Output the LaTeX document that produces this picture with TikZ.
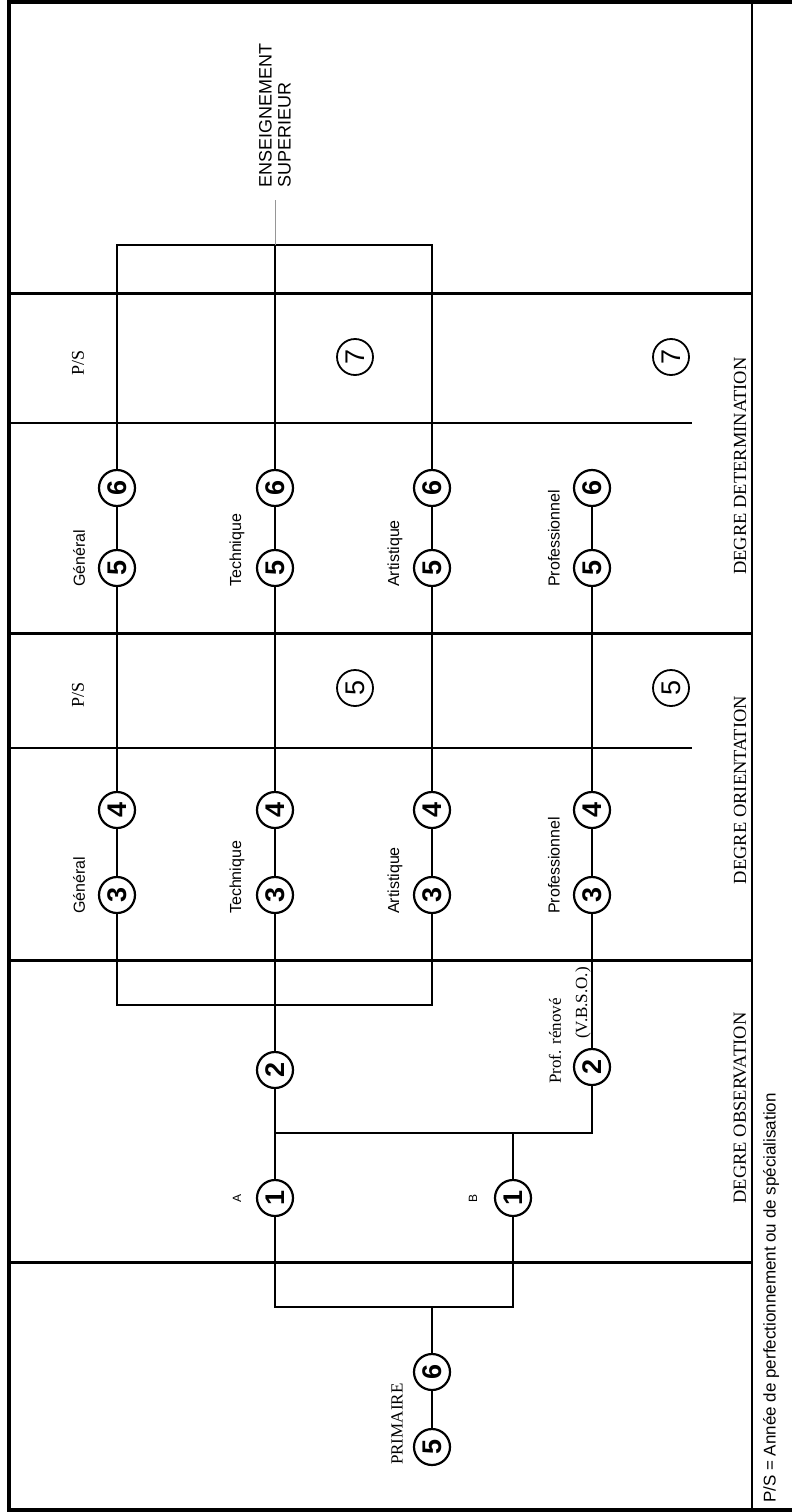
\documentclass[tikz,border=0pt]{standalone}
\usepackage{fontspec}
\setmainfont{Liberation Serif}
\setsansfont{Liberation Sans}
\usepackage{tikz}
\usetikzlibrary{positioning,calc}
\definecolor{supgrey}{RGB}{150,150,150}
\newcommand{\fsz}[1]{\fontsize{#1}{#1}\selectfont}

\begin{document}
\begin{tikzpicture}[
  x=1pt, y=-1pt,
  yr/.style={circle, draw, line width=2.2pt, minimum size=36pt, inner sep=0pt,
    font=\sffamily\bfseries\fsz{27}, rotate=90},
  ps/.style={yr, line width=1.8pt, font=\sffamily\fsz{27}},
  lab/.style={rotate=90, anchor=west, inner sep=0pt, font=\sffamily\fsz{16}},
  rom/.style={rotate=90, inner sep=0pt, font=\fsz{17}},
  deg/.style={rotate=90, inner sep=0pt, font=\fsz{18.5}},
  trk/.style={line width=1.6pt},
  sec/.style={line width=3pt},
  frm/.style={line width=3.5pt}
]
\useasboundingbox (0,0) rectangle (792,1512);
% ---- frame ------------------------------------------------------------------
\draw[frm] (792,2) -- (9,2) -- (9,1510) -- (792,1510);
\draw[line width=2pt] (752,2) -- (752,1510);
\foreach \yy in {293,633,960,1262} \draw[sec] (9,\yy) -- (752,\yy);
\foreach \yy in {423,748} \draw[trk] (9,\yy) -- (692,\yy);

% ---- nodes ------------------------------------------------------------------
% degre determination
\node[yr] (gen6) at (117,488) {6};  \node[yr] (gen5) at (117,568) {5};
\node[yr] (tec6) at (275,488) {6};  \node[yr] (tec5) at (275,568) {5};
\node[yr] (art6) at (432,488) {6};  \node[yr] (art5) at (432,568) {5};
\node[yr] (pro6) at (592,488) {6};  \node[yr] (pro5) at (592,568) {5};
\node[ps] (psd1) at (355,357) {7};  \node[ps] (psd2) at (671,357) {7};
% degre orientation
\node[yr] (gen4) at (117,810) {4};  \node[yr] (gen3) at (117,895) {3};
\node[yr] (tec4) at (275,810) {4};  \node[yr] (tec3) at (275,895) {3};
\node[yr] (art4) at (432,810) {4};  \node[yr] (art3) at (432,895) {3};
\node[yr] (pro4) at (592,810) {4};  \node[yr] (pro3) at (592,895) {3};
\node[ps] (pso1) at (355,688) {5};  \node[ps] (pso2) at (671,688) {5};
% degre observation
\node[yr] (obs2) at (275,1070) {2};
\node[yr] (vbso) at (592,1067) {2};
\node[yr] (obsA) at (275,1198) {1};
\node[yr] (obsB) at (513,1198) {1};
% primaire
\node[yr] (prim6) at (432,1372) {6};
\node[yr] (prim5) at (432,1447) {5};

% ---- labels -----------------------------------------------------------------
\foreach \xx/\tt in {79/Général, 237/Technique, 395/Artistique, 554/Professionnel}{
  \node[lab] at (\xx,587) {\tt};
  \node[lab] at (\xx,914) {\tt};
}
\node[rom, font=\fsz{18}] (psd) at (78,363) {P/S};
\node[rom, font=\fsz{18}] (pso) at (78,695) {P/S};
\node[lab, anchor=center, font=\sffamily\fsz{12}] (labA) at (237,1198) {A};
\node[lab, anchor=center, font=\sffamily\fsz{12}] (labB) at (473,1198) {B};
\node[rom, anchor=west] (renove) at (555,1084) {Prof. rénové};
\node[rom, anchor=east] (vbsolab) at (583,967) {(V.B.S.O.)};
\node[rom, anchor=west] (primlab) at (397,1465) {PRIMAIRE};
\node[deg] (degD) at (740,466) {DEGRE DETERMINATION};
\node[deg] (degO) at (740,790) {DEGRE ORIENTATION};
\node[deg] (degB) at (740,1108) {DEGRE OBSERVATION};
\node[rotate=90, anchor=west, inner xsep=12pt, inner ysep=0pt, align=left,
  font=\sffamily\fontsize{18}{19}\selectfont] (sup) at (275,200)
  {ENSEIGNEMENT\\SUPERIEUR};
\node[lab, font=\sffamily\fsz{17}] (note) at (771,1503)
  {P/S = Année de perfectionnement ou de spécialisation};

% ---- edges ------------------------------------------------------------------
\coordinate (jsup) at (275,245);
\coordinate (jori) at (275,1005);
\coordinate (jmidA) at (275,1133);
\coordinate (jmidP) at (592,1133);
\coordinate (jprim) at (432,1307);
\foreach \tr in {gen,tec,art,pro}
  \draw[trk] (\tr3) -- (\tr4) -- (\tr5) -- (\tr6);
\draw[trk] (gen6) |- (jsup) -| (art6);
\draw[trk] (tec6) -- (jsup);
\draw[supgrey, line width=0.8pt] (jsup) -- (sup);
\draw[trk] (gen3) |- (jori) -| (art3);
\draw[trk] (obs2) -- (tec3);
\draw[trk] (vbso) -- (pro3);
\draw[trk] (obsA) -- (obs2);
\draw[trk] (jmidA) -- (jmidP) -- (vbso);
\draw[trk] (obsB) -- (obsB |- jmidA);
\draw[trk] (obsA) |- (jprim) -| (obsB);
\draw[trk] (prim6) -- (jprim);
\draw[trk] (prim5) -- (prim6);
\end{tikzpicture}
\end{document}
